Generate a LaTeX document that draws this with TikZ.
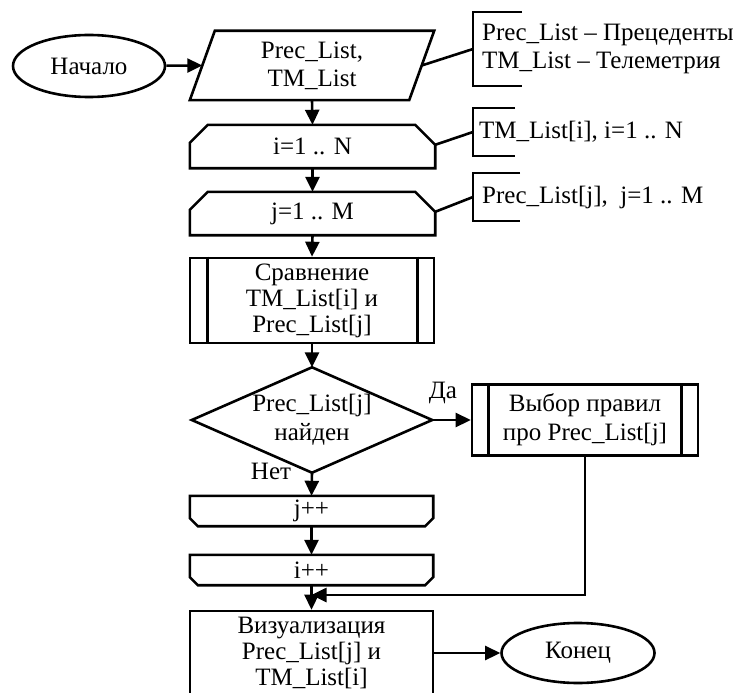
\documentclass[tikz,border=0pt]{standalone}
\usepackage{fontspec}
\setmainfont{Liberation Serif}
\usetikzlibrary{arrows.meta,calc,shapes.geometric}
\begin{document}
\begin{tikzpicture}[x=1pt,y=-1pt,
  every node/.style={font=\fontsize{25}{26}\selectfont, inner sep=0pt, align=center},
  ln/.style={line width=2.6pt, line join=miter},
  arr/.style={ln, -{Triangle[length=15pt,width=14pt]}},
  term/.style={ellipse, draw, ln},
  holder/.style={rectangle},
  anno/.style={anchor=west, align=left},
  lbl/.style={font=\fontsize{25}{26}\selectfont}
]
\clip (0,0) rectangle (745,693);
\fill[white] (0,0) rectangle (745,693);

% terminals
\node[term, minimum width=152pt, minimum height=62pt] (start) at (89,66) {Начало};
\node[term, minimum width=153pt, minimum height=60pt] (fin) at (578,653) {Конец};

% data (parallelogram)
\node[holder, minimum width=219pt, minimum height=69pt, font=\fontsize{25}{28}\selectfont] (data) at (312,65.5) {Prec\_List,\\TM\_List};
\draw[ln] ($(data.north west)+(12.5,0)$) -- ($(data.north east)+(12.5,0)$) -- ($(data.south east)+(-12.5,0)$) -- ($(data.south west)+(-12.5,0)$) -- cycle;

% loop starts
\node[holder, minimum width=245pt, minimum height=43pt] (loopi) at (312.5,146.5) {i=1 .. N};
\draw[ln] (loopi.south west) -- ($(loopi.north west)+(0,18)$) -- ($(loopi.north west)+(18,0)$) -- ($(loopi.north east)+(-20,0)$) -- ($(loopi.north east)+(0,20)$) -- (loopi.south east) -- cycle;
\node[holder, minimum width=245pt, minimum height=43pt] (loopj) at (312.5,213.5) {j=1 .. M};
\draw[ln] (loopj.south west) -- ($(loopj.north west)+(0,18)$) -- ($(loopj.north west)+(18,0)$) -- ($(loopj.north east)+(-20,0)$) -- ($(loopj.north east)+(0,20)$) -- (loopj.south east) -- cycle;

% compare (predefined process)
\node[draw, ln, minimum width=244pt, minimum height=85pt] (cmp) at (312,300.5) {Сравнение\\TM\_List[i] и\\Prec\_List[j]};
\draw[ln] ($(cmp.north west)+(19,0)$) -- ($(cmp.south west)+(19,0)$);
\draw[ln] ($(cmp.north east)+(-18,0)$) -- ($(cmp.south east)+(-18,0)$);

% decision
\node[holder, minimum width=240pt, minimum height=105pt, font=\fontsize{25}{29}\selectfont] (dec) at (312,420) {Prec\_List[j]\\найден};
\draw[ln] (dec.north) -- (dec.east) -- (dec.south) -- (dec.west) -- cycle;

% select rules
\node[draw, ln, minimum width=226pt, minimum height=71pt, font=\fontsize{25}{29}\selectfont] (sel) at (585,420) {Выбор правил\\про Prec\_List[j]};
\draw[ln] ($(sel.north west)+(18,0)$) -- ($(sel.south west)+(18,0)$);
\draw[ln] ($(sel.north east)+(-18,0)$) -- ($(sel.south east)+(-18,0)$);

% loop ends
\node[holder, minimum width=243pt, minimum height=30pt] (jinc) at (311.5,511) {j++};
\draw[ln] (jinc.north west) -- (jinc.north east) -- ($(jinc.south east)+(0,-8)$) -- ($(jinc.south east)+(-8,0)$) -- ($(jinc.south west)+(8,0)$) -- ($(jinc.south west)+(0,-8)$) -- cycle;
\node[holder, minimum width=243pt, minimum height=30pt] (iinc) at (311.5,570) {i++};
\draw[ln] (iinc.north west) -- (iinc.north east) -- ($(iinc.south east)+(0,-8)$) -- ($(iinc.south east)+(-8,0)$) -- ($(iinc.south west)+(8,0)$) -- ($(iinc.south west)+(0,-8)$) -- cycle;

% visualisation
\node[draw, ln, minimum width=243pt, minimum height=84pt] (vis) at (311.5,653) {Визуализация\\Prec\_List[j] и\\TM\_List[i]};

% labels
\node[lbl] (yes) at (443,393) {Да};
\node[lbl] (no) at (271,471) {Нет};

% connectors
\draw[arr] (start) -- (data.west);
\draw[arr] (data.south) -- (loopi.north);
\draw[arr] (loopi.south) -- (loopj.north);
\draw[arr] (loopj.south) -- (cmp.north);
\draw[arr] (cmp.south) -- (dec.north);
\draw[arr] (dec.east) -- (sel.west);
\draw[arr] (dec.south) -- (jinc.north);
\draw[arr] (jinc.south) -- (iinc.north);
\draw[arr] (iinc.south) -- (vis.north);
\coordinate (merge) at (311.5,595);
\draw[arr] (sel.south) |- (merge);
\draw[arr] (vis.east) -- (fin.west);

% annotations
\node[anno, font=\fontsize{25}{28}\selectfont] (ann1) at (482,49) {Prec\_List – Прецеденты\\TM\_List – Телеметрия};
\node[anno] (ann2) at (479,132) {TM\_List[i], i=1 .. N};
\node[anno] (ann3) at (482,197) {Prec\_List[j],\ \ j=1 .. M};
\coordinate (b1) at (473,49);
\coordinate (b2) at (473,132);
\coordinate (b3) at (473,197);
\draw[ln] (522,12) -- (473,12) -- (473,86) -- (522,86);
\draw[ln] (515,108) -- (473,108) -- (473,156) -- (515,156);
\draw[ln] (520,173) -- (473,173) -- (473,221) -- (520,221);
\draw[ln] (data.east) -- (b1);
\draw[ln] ($(loopi.north east)+(0,20)$) -- (b2);
\draw[ln] ($(loopj.north east)+(0,20)$) -- (b3);
\end{tikzpicture}
\end{document}
